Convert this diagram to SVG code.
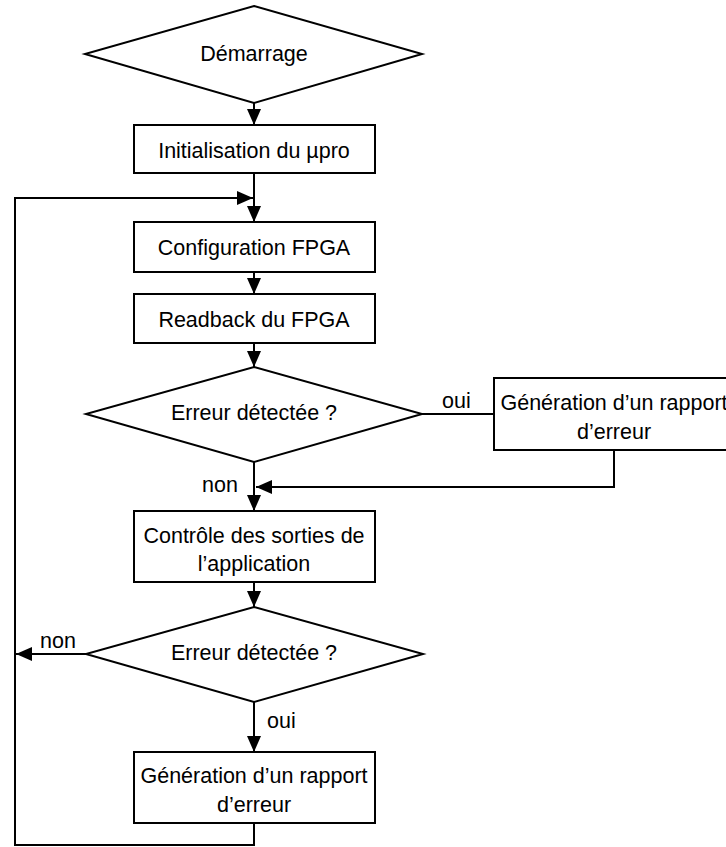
<svg xmlns="http://www.w3.org/2000/svg" width="726" height="847" viewBox="0 0 726 847">
<style>
.shape{fill:#fff;stroke:#000;stroke-width:2}
.line{fill:none;stroke:#000;stroke-width:2}
text{font-family:"Liberation Sans",Arial,sans-serif;font-size:21.5px;fill:#000}
.c{text-anchor:middle}
</style>
<defs>
<marker id="ah" markerUnits="userSpaceOnUse" markerWidth="16" markerHeight="14" viewBox="0 0 16 14" refX="16" refY="7" orient="auto">
<path d="M0,0 L16,7 L0,14 Z" fill="#000"/>
</marker>
</defs>
<rect width="726" height="847" fill="#fff"/>
<g id="connectors">
<line class="line" x1="254" y1="103" x2="254" y2="125" marker-end="url(#ah)"/>
<line class="line" x1="254" y1="173" x2="254" y2="222" marker-end="url(#ah)"/>
<line class="line" x1="254" y1="272" x2="254" y2="294" marker-end="url(#ah)"/>
<line class="line" x1="254" y1="343" x2="254" y2="367" marker-end="url(#ah)"/>
<line class="line" x1="254" y1="462" x2="254" y2="511" marker-end="url(#ah)"/>
<line class="line" x1="422" y1="414" x2="494" y2="414"/>
<polyline class="line" points="614,450 614,487 256,487" marker-end="url(#ah)"/>
<line class="line" x1="254" y1="582" x2="254" y2="607" marker-end="url(#ah)"/>
<line class="line" x1="86" y1="654" x2="16" y2="654" marker-end="url(#ah)"/>
<line class="line" x1="254" y1="702" x2="254" y2="752" marker-end="url(#ah)"/>
<polyline class="line" points="254,823 254,845 15,845 15,198 253,198" marker-end="url(#ah)"/>
<text x="442" y="408">oui</text>
<text x="202" y="492">non</text>
<text x="40" y="648">non</text>
<text x="267" y="728">oui</text>
</g>
<g id="demarrage">
<polygon class="shape" points="254,6 422,54 254,103 85,54"/>
<text class="c" x="254" y="61">Démarrage</text>
</g>
<g id="init">
<rect class="shape" x="134" y="125" width="241" height="48"/>
<text class="c" x="254" y="158">Initialisation du µpro</text>
</g>
<g id="config">
<rect class="shape" x="134" y="222" width="241" height="50"/>
<text class="c" x="254" y="255">Configuration FPGA</text>
</g>
<g id="readback">
<rect class="shape" x="134" y="294" width="241" height="49"/>
<text class="c" x="254" y="327">Readback du FPGA</text>
</g>
<g id="erreur1">
<polygon class="shape" points="254,367 422,414 254,462 86,414"/>
<text class="c" x="254" y="420">Erreur détectée ?</text>
</g>
<g id="rapport1">
<rect class="shape" x="494" y="378" width="240" height="72"/>
<text class="c" x="614" y="410">Génération d’un rapport</text>
<text class="c" x="614" y="439">d’erreur</text>
</g>
<g id="controle">
<rect class="shape" x="134" y="511" width="241" height="71"/>
<text class="c" x="254" y="543">Contrôle des sorties de</text>
<text class="c" x="254" y="571">l’application</text>
</g>
<g id="erreur2">
<polygon class="shape" points="254,607 423,654 254,702 86,654"/>
<text class="c" x="254" y="660">Erreur détectée ?</text>
</g>
<g id="rapport2">
<rect class="shape" x="134" y="752" width="241" height="71"/>
<text class="c" x="254" y="783">Génération d’un rapport</text>
<text class="c" x="254" y="812">d’erreur</text>
</g>
</svg>
